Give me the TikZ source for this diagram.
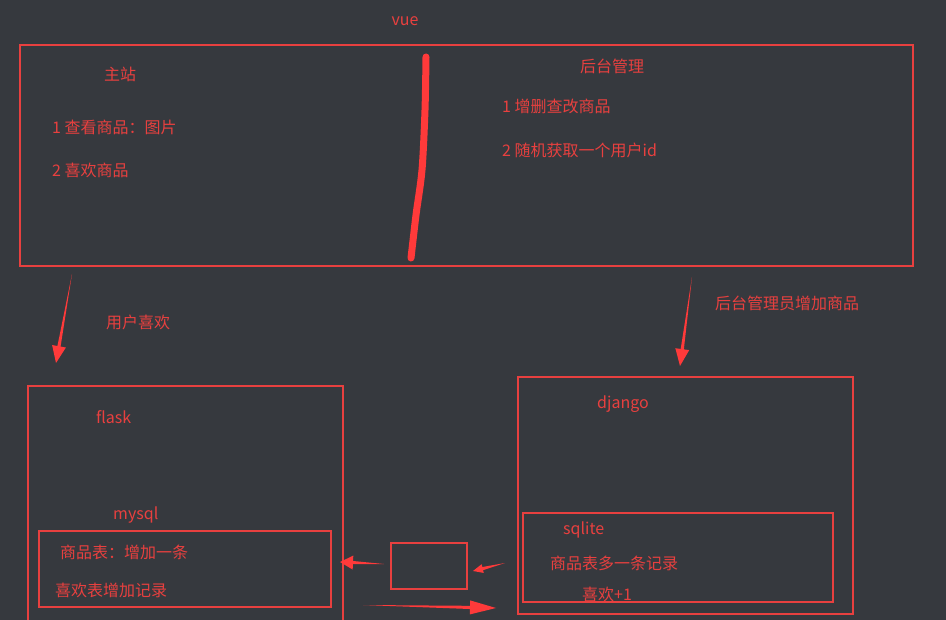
\documentclass[tikz,border=0pt]{standalone}
\usepackage{fontspec}
\setmainfont{Noto Sans CJK SC}
\usepackage{tikz}
\usetikzlibrary{calc}
\definecolor{BoardGray}{HTML}{36393E}
\definecolor{PenRed}{HTML}{E8403F}
\definecolor{MarkerRed}{HTML}{FF3A3A}
\tikzset{
  frame/.style={draw=PenRed,line width=2.8pt,inner sep=0pt},
  label/.style={text=PenRed,inner sep=0pt,font=\fontsize{16}{19}\selectfont},
}
% tapered hand-drawn arrow: tail, tip, head length, head half width
\newcommand{\brusharrow}[4]{%
  \fill[MarkerRed] (#1)
    -- ($($(#2)!#3!(#1)$)!1.6pt!90:(#2)$)
    -- ($($(#2)!#3!(#1)$)!#4!90:(#2)$)
    -- (#2)
    -- ($($(#2)!#3!(#1)$)!#4!-90:(#2)$)
    -- ($($(#2)!#3!(#1)$)!1.6pt!-90:(#2)$)
    -- cycle;}

\begin{document}
\begin{tikzpicture}[x=1pt,y=-1pt]
  \useasboundingbox (0,0) rectangle (946,620);
  \clip (0,0) rectangle (946,620);
  \fill[BoardGray] (0,0) rectangle (946,620);

  % top: vue
  \node[label] (vue) at (405,21) {vue};
  \node[frame,minimum width=893pt,minimum height=221pt] (front) at (466.5,155.5) {};
  \draw[MarkerRed,line width=7pt,line cap=round] plot[smooth] coordinates {(426,57) (425,110) (422,170) (416,215) (411,258)};
  \node[label] (mainsite) at (120,74) {主站};
  \node[label,anchor=west] (view) at (52,127) {1 查看商品：图片};
  \node[label,anchor=west] (like) at (52,170) {2 喜欢商品};
  \node[label] (admin) at (612,66) {后台管理};
  \node[label,anchor=west] (crud) at (502,106) {1 增删查改商品};
  \node[label,anchor=west] (randid) at (502,150) {2 随机获取一个用户id};

  % arrows down
  \coordinate (likeTail) at (72,274);
  \coordinate (likeTip) at (56,363);
  \brusharrow{likeTail}{likeTip}{17pt}{7pt}
  \node[label,anchor=west] (userlike) at (106,322) {用户喜欢};
  \coordinate (addTail) at (692,277);
  \coordinate (addTip) at (680,366);
  \brusharrow{addTail}{addTip}{17pt}{7pt}
  \node[label,anchor=west] (adminadd) at (715,303) {后台管理员增加商品};

  % flask
  \node[frame,minimum width=315pt,minimum height=250pt] (flask) at (185.5,511) {};
  \node[label,anchor=west] (flasktxt) at (96,417) {flask};
  \node[label,anchor=west] (mysqltxt) at (113,515) {mysql};
  \node[frame,minimum width=292pt,minimum height=76pt] (mysql) at (185,569) {};
  \node[label,anchor=west] (goodsrow) at (60,552) {商品表：增加一条};
  \node[label,anchor=west] (likerow) at (55,590) {喜欢表增加记录};

  % middle
  \node[frame,minimum width=76pt,minimum height=46pt] (relay) at (429,566) {};
  \coordinate (toFlaskTail) at (384,564);
  \coordinate (toFlaskTip) at (340,562);
  \brusharrow{toFlaskTail}{toFlaskTip}{13pt}{7pt}
  \coordinate (toRelayTail) at (505,563);
  \coordinate (toRelayTip) at (473,571);
  \brusharrow{toRelayTail}{toRelayTip}{10pt}{4.5pt}
  \coordinate (toDjangoTail) at (363,605);
  \coordinate (toDjangoTip) at (496,608);
  \brusharrow{toDjangoTail}{toDjangoTip}{26pt}{7pt}

  % django
  \node[frame,minimum width=335pt,minimum height=237pt] (django) at (685.5,495.5) {};
  \node[label,anchor=west] (djangotxt) at (597,404) {django};
  \node[frame,minimum width=310pt,minimum height=89pt] (sqlite) at (678,557.5) {};
  \node[label,anchor=west] (sqlitetxt) at (563,530) {sqlite};
  \node[label,anchor=west] (goodsmore) at (550,563) {商品表多一条记录};
  \node[label,anchor=west] (likeplus) at (582,594) {喜欢+1};
\end{tikzpicture}
\end{document}
